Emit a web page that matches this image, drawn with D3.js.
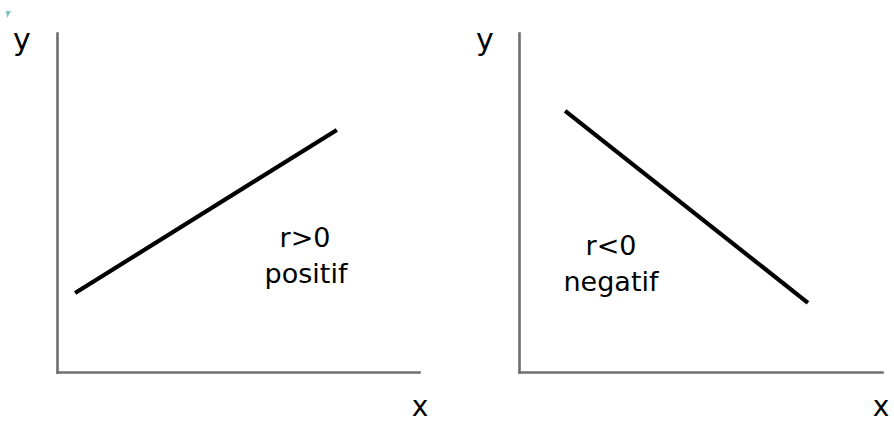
<!DOCTYPE html>
<html>
<head>
<meta charset="utf-8">
<script src="https://cdn.jsdelivr.net/npm/d3@7"></script>
<style>
  html, body { margin: 0; padding: 0; background: #fff; }
  svg { display: block; }
  text { font-family: "DejaVu Sans", Verdana, sans-serif; fill: #000; }
</style>
</head>
<body>
<svg id="chart" width="894" height="423"></svg>
<script>
// Data (domain units 0..100 on each panel)
const panels = ["positive", "negative"];
const positiveX = [5, 77.3];
const positiveY = [23.3, 71.4];
const negativeX = [12.7, 79.6];
const negativeY = [77, 20.4];
const labelsTop = ["r>0", "r<0"];
const labelsBottom = ["positif", "negatif"];
const axisLabelX = "x";
const axisLabelY = "y";

const svg = d3.select("#chart");

// small mark at top-left corner of the original
svg.append("path")
  .attr("d", "M6,11 L11,11 L7,18 Z")
  .attr("fill", "#7fc4c4");

const layouts = [
  { x0: 57, x1: 419, y0: 372, y1: 33, xs: positiveX, ys: positiveY,
    ylab: [22, 50], xlab: [420, 416], lab: [305, 247, 306, 283] },
  { x0: 519, x1: 882, y0: 372, y1: 33, xs: negativeX, ys: negativeY,
    ylab: [485, 50], xlab: [881, 416], lab: [611, 255, 611, 291] }
];

layouts.forEach((L, i) => {
  const x = d3.scaleLinear().domain([0, 100]).range([L.x0, L.x1]);
  const y = d3.scaleLinear().domain([0, 100]).range([L.y0, L.y1]);

  const gx = svg.append("g").attr("transform", `translate(0,${L.y0})`)
    .call(d3.axisBottom(x).ticks(0).tickSize(0).tickSizeOuter(0));
  const gy = svg.append("g").attr("transform", `translate(${L.x0},0)`)
    .call(d3.axisLeft(y).ticks(0).tickSize(0).tickSizeOuter(0));
  [gx, gy].forEach(g => {
    g.selectAll("text").remove();
    g.select(".domain").attr("stroke", "#6e6e6e").attr("stroke-width", 2.6)
      .attr("stroke-linecap", "square");
  });

  const pts = L.xs.map((v, k) => [v, L.ys[k]]);
  svg.append("path")
    .datum(pts)
    .attr("fill", "none")
    .attr("stroke", "#000")
    .attr("stroke-width", 4.2)
    .attr("d", d3.line().x(d => x(d[0])).y(d => y(d[1])));

  svg.append("text").attr("x", L.ylab[0]).attr("y", L.ylab[1])
    .attr("text-anchor", "middle").attr("font-size", 30).text(axisLabelY);
  svg.append("text").attr("x", L.xlab[0]).attr("y", L.xlab[1])
    .attr("text-anchor", "middle").attr("font-size", 28).text(axisLabelX);

  svg.append("text").attr("x", L.lab[0]).attr("y", L.lab[1])
    .attr("text-anchor", "middle").attr("font-size", 27).text(labelsTop[i]);
  svg.append("text").attr("x", L.lab[2]).attr("y", L.lab[3])
    .attr("text-anchor", "middle").attr("font-size", 27).text(labelsBottom[i]);
});
</script>
</body>
</html>
